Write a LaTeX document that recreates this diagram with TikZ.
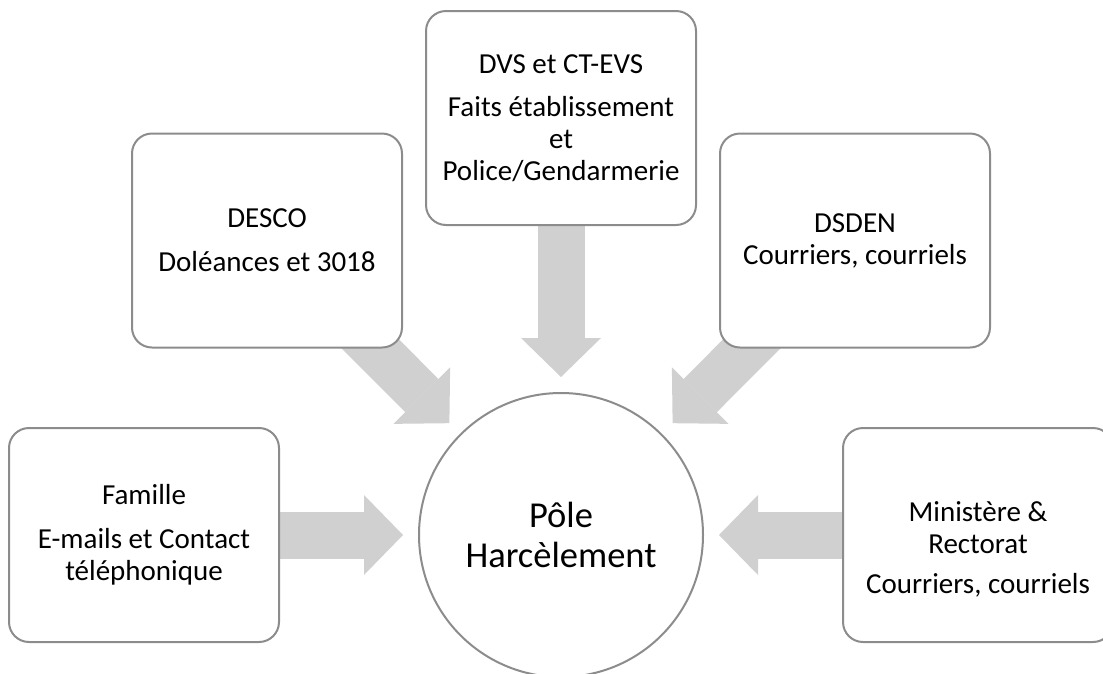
\documentclass[tikz,border=0pt]{standalone}
\usepackage{fontspec}
\setmainfont{Carlito}
\usetikzlibrary{
  arrows.meta,
  backgrounds,
  positioning
}
\usepackage{xcolor}
\definecolor{lineGray}{RGB}{140,140,140}
\definecolor{arrowGray}{RGB}{208,208,208}
\newcommand{\srcNode}[3]{\node[source] (#1) at (#2) {#3};}
\tikzset{
  source/.style={
    draw=lineGray,
    fill=white,
    line width=2pt,
    rounded corners=20pt,
    minimum width=270pt,
    minimum height=214pt,
    inner sep=0pt,
    align=center,
    font=\fontsize{29}{32}\selectfont
  },
  hub/.style={
    circle,
    draw=lineGray,
    fill=white,
    line width=2pt,
    minimum size=284pt,
    inner sep=0pt,
    outer sep=0pt,
    align=center,
    font=\fontsize{36.5}{40}\selectfont
  },
  flow/.style={
    color=arrowGray,
    line width=47pt,
    shorten >=16pt,
    -{Triangle[width=80pt,length=39pt,line width=0pt]}
  }
}

\begin{document}
\begin{tikzpicture}[x=1pt, y=-1pt]
  \useasboundingbox (0,0) rectangle (1103,673);

  \node[hub] (pole) at (561,535) {Pôle\\Harcèlement};

  \srcNode{dvs}{561,118}{DVS et CT-EVS\\[11pt]Faits établissement\\et\\Police/Gendarmerie}
  \srcNode{desco}{267,240.5}{DESCO\\[12pt]Doléances et 3018}
  \srcNode{dsden}{855,240.5}{DSDEN\\Courriers, courriels}
  \srcNode{famille}{144,535}{Famille\\[12pt]E-mails et Contact\\téléphonique}
  % text sits a little low in this box
  \srcNode{minis}{978,535}{\rule{0pt}{48pt}Ministère \&\\Rectorat\\[8pt]Courriers, courriels}

  \begin{scope}[on background layer]
    \path[flow]
    (famille.center) edge (pole)
    (desco.center)   edge (pole)
    (dvs.center)     edge (pole)
    (dsden.center)   edge (pole)
    (minis.center)   edge (pole)
    ;
  \end{scope}
\end{tikzpicture}
\end{document}
